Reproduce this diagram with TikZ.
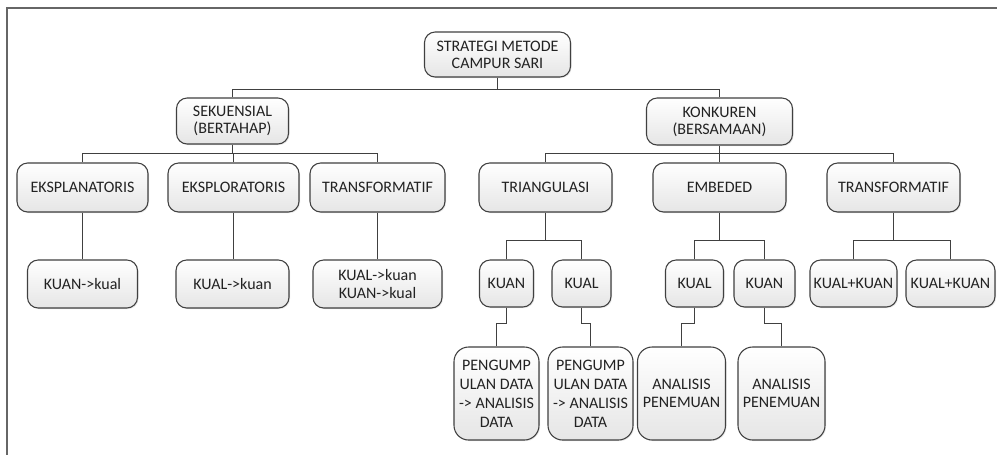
\documentclass[tikz,border=0pt]{standalone}
\usepackage{fontspec}
\setmainfont{Carlito}
\usetikzlibrary{shadows}
\definecolor{lineC}{HTML}{404040}
\definecolor{txtC}{HTML}{222222}
\begin{document}
\begin{tikzpicture}[x=0.75pt,y=-0.75pt,
  box/.style={draw=lineC, line width=0.8pt, rounded corners=8pt, top color=white, bottom color=black!10,
    drop shadow={shadow xshift=0.8pt, shadow yshift=-0.8pt, opacity=0.2},
    align=center, inner sep=0pt, text=txtC, font=\fontsize{12}{12.75}\selectfont},
  tallbox/.style={box, rounded corners=11pt, font=\fontsize{12}{14.25}\selectfont},
  conn/.style={draw=lineC, line width=0.75pt}]
\useasboundingbox (0,0) rectangle (997,455);
\fill[white] (0,0) rectangle (997,455);
\draw[gray!80!black, line width=1.2pt] (997,8) -- (7,8) -- (7,455);

% level 0 and 1
\node[box, minimum width=146*0.75pt, minimum height=45*0.75pt] (root) at (497.5,54.5) {STRATEGI METODE\\CAMPUR SARI};
\node[box, minimum width=112*0.75pt, minimum height=46*0.75pt] (sek) at (232.5,121) {SEKUENSIAL\\(BERTAHAP)};
\node[box, minimum width=146*0.75pt, minimum height=47*0.75pt] (kon) at (719.5,121.5) {KONKUREN\\(BERSAMAAN)};

% level 2
\node[box, minimum width=131*0.75pt, minimum height=49*0.75pt] (eksplan) at (82.5,187.5) {EKSPLANATORIS};
\node[box, minimum width=131*0.75pt, minimum height=49*0.75pt] (eksplor) at (233.5,187.5) {EKSPLORATORIS};
\node[box, minimum width=135*0.75pt, minimum height=49*0.75pt] (transL) at (377.5,187.5) {TRANSFORMATIF};
\node[box, minimum width=133*0.75pt, minimum height=49*0.75pt] (tri) at (545.5,187.5) {TRIANGULASI};
\node[box, minimum width=133*0.75pt, minimum height=49*0.75pt] (emb) at (719.5,187.5) {EMBEDED};
\node[box, minimum width=133*0.75pt, minimum height=49*0.75pt] (transR) at (893.5,187.5) {TRANSFORMATIF};

% level 3
\node[box, minimum width=110*0.75pt, minimum height=48*0.75pt] (kuankual) at (82.5,284) {KUAN->kual};
\node[box, minimum width=113*0.75pt, minimum height=48*0.75pt] (kualkuan) at (232.5,284) {KUAL->kuan};
\node[box, minimum width=129*0.75pt, minimum height=48*0.75pt, font=\fontsize{12}{13.5}\selectfont] (both) at (377.5,284) {KUAL->kuan\\KUAN->kual};
\node[box, minimum width=54*0.75pt, minimum height=47*0.75pt] (kuan1) at (506.5,283.5) {KUAN};
\node[box, minimum width=59*0.75pt, minimum height=47*0.75pt] (kual1) at (581.5,283.5) {KUAL};
\node[box, minimum width=58*0.75pt, minimum height=47*0.75pt] (kual2) at (694.5,283.5) {KUAL};
\node[box, minimum width=61*0.75pt, minimum height=47*0.75pt] (kuan2) at (764.5,283.5) {KUAN};
\node[box, minimum width=87*0.75pt, minimum height=47*0.75pt] (kk1) at (853.5,283.5) {KUAL+KUAN};
\node[box, minimum width=89*0.75pt, minimum height=47*0.75pt] (kk2) at (950.5,283.5) {KUAL+KUAN};

% level 4
\node[tallbox, minimum width=85*0.75pt, minimum height=93*0.75pt] (p1) at (496.5,393.5) {PENGUMP\\ULAN DATA\\-> ANALISIS\\DATA};
\node[tallbox, minimum width=85*0.75pt, minimum height=93*0.75pt] (p2) at (590.5,393.5) {PENGUMP\\ULAN DATA\\-> ANALISIS\\DATA};
\node[tallbox, minimum width=88*0.75pt, minimum height=93*0.75pt, font=\fontsize{12}{13.75}\selectfont] (a1) at (681.5,393.5) {ANALISIS\\PENEMUAN};
\node[tallbox, minimum width=87*0.75pt, minimum height=93*0.75pt, font=\fontsize{12}{13.75}\selectfont] (a2) at (781.5,393.5) {ANALISIS\\PENEMUAN};

% connectors
\coordinate (b1) at (497.5,89.5);
\coordinate (b2) at (232.5,153.5);
\coordinate (b3) at (719.5,153.5);
\coordinate (b4) at (545.5,240.5);
\coordinate (b5) at (719.5,240.5);
\coordinate (b6) at (893.5,240.5);

\draw[conn] (root.south) -- (b1);
\draw[conn] (sek.north) |- (b1) -| (kon.north);

\draw[conn] (sek.south) -- (b2);
\draw[conn] (eksplan.north) |- (b2) -| (transL.north);
\draw[conn] (eksplor.north) -- (eksplor.north |- b2);

\draw[conn] (kon.south) -- (b3);
\draw[conn] (tri.north) |- (b3) -| (transR.north);
\draw[conn] (emb.north) -- (emb.north |- b3);

\draw[conn] (eksplan.south) -- (eksplan.south |- kuankual.north);
\draw[conn] (eksplor.south) -- (eksplor.south |- kualkuan.north);
\draw[conn] (transL.south) -- (transL.south |- both.north);

\draw[conn] (tri.south) -- (b4);
\draw[conn] (kuan1.north) |- (b4) -| (kual1.north);
\draw[conn] (emb.south) -- (b5);
\draw[conn] (kual2.north) |- (b5) -| (kuan2.north);
\draw[conn] (transR.south) -- (b6);
\draw[conn] (kk1.north) |- (b6) -| (kk2.north);

\draw[conn] (kuan1.south) -- ++(0,16) -| (p1.north);
\draw[conn] (kual1.south) -- ++(0,16) -| (p2.north);
\draw[conn] (kual2.south) -- ++(0,16) -| (a1.north);
\draw[conn] (kuan2.south) -- ++(0,16) -| (a2.north);
\end{tikzpicture}
\end{document}
